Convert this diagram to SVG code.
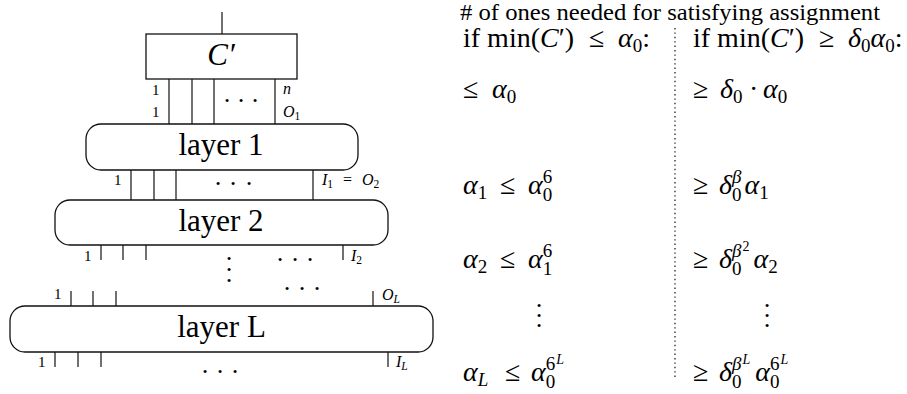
<svg xmlns="http://www.w3.org/2000/svg" width="907" height="394" viewBox="0 0 907 394" font-family="Liberation Serif, Times New Roman, serif">
<style>
.ln{stroke:#111;stroke-width:1.2;fill:none}
.bx{fill:#fff;stroke:#111;stroke-width:1.3}
.dot{stroke:#111;stroke-width:1.2;stroke-dasharray:1.4 3;fill:none}
text{font-family:'Liberation Serif','Times New Roman',serif;fill:#000}
.it{font-style:italic}
.lb{font-size:31px;text-anchor:middle}
.s1{font-size:15px}
.s2{font-size:16px}
.ss{font-size:11.5px}
.m{font-size:28px}
.sc{font-size:19px}
.sss{font-size:14px}
.d{font-size:26px;text-anchor:middle}
.hd{font-size:23px}
</style>
<g id="connectors">
<line class="ln" x1="222" y1="12" x2="222" y2="34"/>
<line class="ln" x1="169" y1="79" x2="169" y2="124"/>
<line class="ln" x1="192" y1="79" x2="192" y2="124"/>
<line class="ln" x1="214" y1="79" x2="214" y2="124"/>
<line class="ln" x1="275" y1="79" x2="275" y2="124"/>
<line class="ln" x1="131" y1="170" x2="131" y2="200"/>
<line class="ln" x1="154" y1="170" x2="154" y2="200"/>
<line class="ln" x1="176" y1="170" x2="176" y2="200"/>
<line class="ln" x1="313" y1="170" x2="313" y2="200"/>
<line class="ln" x1="101" y1="245" x2="101" y2="260"/>
<line class="ln" x1="123" y1="245" x2="123" y2="260"/>
<line class="ln" x1="146" y1="245" x2="146" y2="260"/>
<line class="ln" x1="343" y1="245" x2="343" y2="260"/>
<line class="ln" x1="71" y1="291" x2="71" y2="306"/>
<line class="ln" x1="93" y1="291" x2="93" y2="306"/>
<line class="ln" x1="116" y1="291" x2="116" y2="306"/>
<line class="ln" x1="373" y1="291" x2="373" y2="306"/>
<line class="ln" x1="55" y1="352" x2="55" y2="367"/>
<line class="ln" x1="78" y1="352" x2="78" y2="367"/>
<line class="ln" x1="101" y1="352" x2="101" y2="367"/>
<line class="ln" x1="388" y1="352" x2="388" y2="367"/>
</g>
<g id="cprime">
<rect class="bx" x="146" y="34" width="151" height="45"/>
<text x="221" y="65" class="lb it">C′</text>
</g>
<g id="layer1">
<rect class="bx" x="86" y="124" width="272" height="46" rx="15"/>
<text x="221" y="155" class="lb">layer 1</text>
</g>
<g id="layer2">
<rect class="bx" x="55" y="200" width="333" height="45" rx="15"/>
<text x="221" y="231" class="lb">layer 2</text>
</g>
<g id="layerL">
<rect class="bx" x="10" y="306" width="423" height="46" rx="15"/>
<text x="221.5" y="337" class="lb">layer L</text>
</g>
<g id="labels">
<text class="s1" x="152" y="95">1</text>
<text class="s1" x="152" y="117">1</text>
<text class="s2 it" x="283" y="94">n</text>
<text class="s2" x="283" y="117"><tspan class="it">O</tspan><tspan class="ss" dy="3">1</tspan></text>
<text class="d" x="227 241 255" y="109">···</text>
<text class="s1" x="114" y="185">1</text>
<text class="s2" x="322" y="185"><tspan class="it">I</tspan><tspan class="ss" dy="3">1</tspan><tspan x="343" dy="-3">=</tspan><tspan class="it" x="362">O</tspan><tspan class="ss" dy="3">2</tspan></text>
<text class="d" x="218 233 249" y="192">···</text>
<text class="s1" x="84" y="261">1</text>
<text class="s2" x="351" y="261"><tspan class="it">I</tspan><tspan class="ss" dy="3">2</tspan></text>
<text class="d" x="280 295 310" y="268">···</text>
<text class="d" x="229 229 229" y="267 278 289">···</text>
<text class="d" x="287 302 317" y="297">···</text>
<text class="s1" x="54" y="299">1</text>
<text class="s2" x="382" y="300"><tspan class="it">O</tspan><tspan class="ss it" dy="3">L</tspan></text>
<text class="s1" x="38" y="367">1</text>
<text class="s2" x="396" y="367"><tspan class="it">I</tspan><tspan class="ss it" dy="3">L</tspan></text>
<text class="d" x="205 220 235" y="380">···</text>
</g>
<g id="table">
<text class="hd" x="460" y="20" textLength="420" lengthAdjust="spacingAndGlyphs"># of ones needed for satisfying assignment</text>
<line class="dot" x1="675" y1="28" x2="675" y2="380"/>
<text class="m" y="47"><tspan x="463">if min(</tspan><tspan class="it">C</tspan><tspan>′)</tspan><tspan x="589">≤</tspan><tspan class="it" x="618">α</tspan><tspan class="sc" dy="5">0</tspan><tspan dy="-5">:</tspan></text>
<text class="m" y="47"><tspan x="693">if min(</tspan><tspan class="it">C</tspan><tspan>′)</tspan><tspan x="819">≥</tspan><tspan class="it" x="848">δ</tspan><tspan class="sc" dy="5">0</tspan><tspan class="it" dy="-5">α</tspan><tspan class="sc" dy="5">0</tspan><tspan dy="-5">:</tspan></text>
<text class="m" y="98"><tspan x="463">≤</tspan><tspan class="it" x="492">α</tspan><tspan class="sc" dy="5">0</tspan></text>
<text class="m" y="98"><tspan x="693">≥</tspan><tspan class="it" x="720">δ</tspan><tspan class="sc" dy="5">0</tspan><tspan x="749" dy="-5">·</tspan><tspan class="it" x="763">α</tspan><tspan class="sc" dy="5">0</tspan></text>
<text class="m" y="194"><tspan class="it" x="463">α</tspan><tspan class="sc" dy="5">1</tspan><tspan x="500" dy="-5">≤</tspan><tspan class="it" x="528">α</tspan><tspan class="sc" dy="7">0</tspan><tspan class="sc" dx="-9.5" dy="-18">6</tspan></text>
<text class="m" y="194"><tspan x="693">≥</tspan><tspan class="it" x="719">δ</tspan><tspan class="sc" dy="7">0</tspan><tspan class="sc it" dx="-9.5" dy="-18">β</tspan><tspan class="it" dx="3" dy="11">α</tspan><tspan class="sc" dy="5">1</tspan></text>
<text class="m" y="268"><tspan class="it" x="463">α</tspan><tspan class="sc" dy="5">2</tspan><tspan x="500" dy="-5">≤</tspan><tspan class="it" x="528">α</tspan><tspan class="sc" dy="7">1</tspan><tspan class="sc" dx="-9.5" dy="-18">6</tspan></text>
<text class="m" y="268"><tspan x="693">≥</tspan><tspan class="it" x="719">δ</tspan><tspan class="sc" dy="7">0</tspan><tspan class="sc it" dx="-9.5" dy="-18">β</tspan><tspan class="sss" dx="1" dy="-6">2</tspan><tspan class="it" dx="4" dy="17">α</tspan><tspan class="sc" dy="5">2</tspan></text>
<text class="d" x="539 539 539" y="314 324 334">···</text>
<text class="d" x="767 767 767" y="314 324 334">···</text>
<text class="m" y="381"><tspan class="it" x="463">α</tspan><tspan class="sc it" dy="5">L</tspan><tspan x="505" dy="-5">≤</tspan><tspan class="it" x="531">α</tspan><tspan class="sc" dy="7">0</tspan><tspan class="sc" dx="-9.5" dy="-18">6</tspan><tspan class="sss it" dx="1" dy="-6">L</tspan></text>
<text class="m" y="381"><tspan x="693">≥</tspan><tspan class="it" x="719">δ</tspan><tspan class="sc" dy="7">0</tspan><tspan class="sc it" dx="-9.5" dy="-18">β</tspan><tspan class="sss it" dx="1" dy="-6">L</tspan><tspan class="it" dx="5" dy="17">α</tspan><tspan class="sc" dy="7">0</tspan><tspan class="sc" dx="-9.5" dy="-18">6</tspan><tspan class="sss it" dx="1" dy="-6">L</tspan></text>
</g>
</svg>
